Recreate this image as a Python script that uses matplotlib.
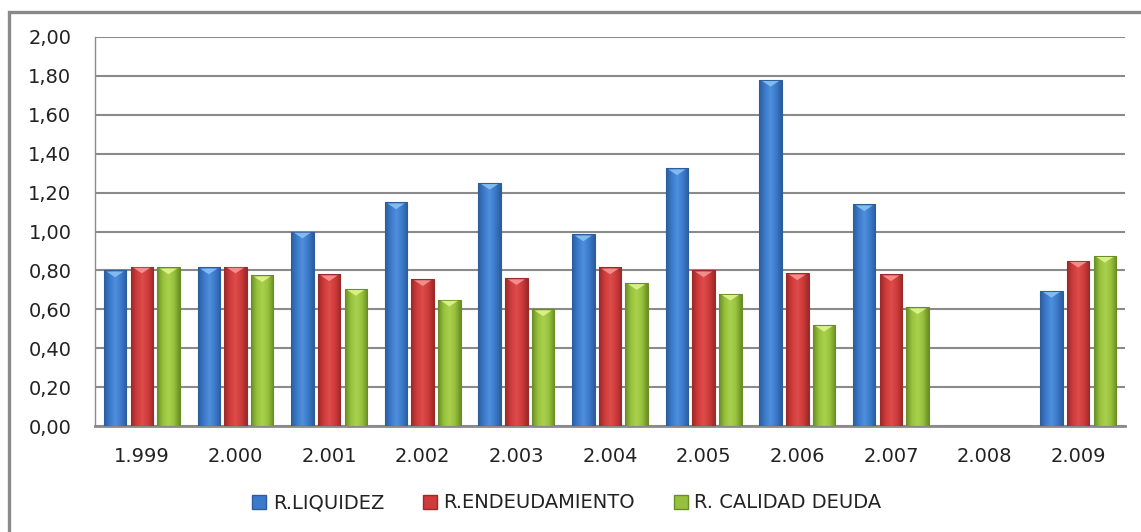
import matplotlib.pyplot as plt
import matplotlib.patches as patches
from matplotlib.colors import LinearSegmentedColormap
import numpy as np

plt.rcParams['font.family'] = ['DejaVu Sans']

years = ["1.999", "2.000", "2.001", "2.002", "2.003", "2.004",
         "2.005", "2.006", "2.007", "2.008", "2.009"]
liquidez = [0.80, 0.815, 1.00, 1.15, 1.25, 0.985, 1.325, 1.78, 1.14, 0.0, 0.695]
endeudamiento = [0.82, 0.82, 0.78, 0.755, 0.76, 0.815, 0.80, 0.785, 0.78, 0.0, 0.85]
calidad = [0.815, 0.775, 0.705, 0.65, 0.60, 0.735, 0.68, 0.52, 0.61, 0.0, 0.875]
series_names = ["R.LIQUIDEZ", "R.ENDEUDAMIENTO", "R. CALIDAD DEUDA"]
yticks = [0.0, 0.2, 0.4, 0.6, 0.8, 1.0, 1.2, 1.4, 1.6, 1.8, 2.0]

# (dark edge, mid, light highlight, tip colour)
palette = [
    ("#2c5d9c", "#3b7acb", "#4f8fdb", "#8cc4f5"),
    ("#9c2a2a", "#cf3b3b", "#de4c4c", "#f59a9a"),
    ("#6a8e26", "#97c13c", "#aad14e", "#e4f58f"),
]

fig = plt.figure(figsize=(11.41, 5.32), dpi=100)
ax = fig.add_axes([95/1141, 106/532, 1030/1141, 389/532])

x = np.arange(len(years))
width = 0.24
offsets = [-0.285, 0.0, 0.285]

for vals, off, cols in zip([liquidez, endeudamiento, calidad], offsets, palette):
    cmap = LinearSegmentedColormap.from_list(
        "bar", [cols[0], cols[1], cols[2], cols[1], cols[0]])
    grad = np.linspace(0, 1, 64).reshape(1, -1)
    bars = ax.bar(x + off, vals, width, color="none", edgecolor="none", zorder=3)
    for rect, v in zip(bars, vals):
        if v <= 0:
            continue
        x0 = rect.get_x()
        x1 = x0 + rect.get_width()
        im = ax.imshow(grad, cmap=cmap, extent=(x0, x1, 0, v),
                       aspect="auto", zorder=3, interpolation="bicubic")
        im.set_clip_path(rect)
        # thin outline
        ax.add_patch(patches.Rectangle((x0, 0), x1 - x0, v, fill=False,
                                       edgecolor=cols[0], linewidth=0.8, zorder=4))
        # bevel at the top of the bar
        w = x1 - x0
        tip = patches.Polygon([(x0 + 0.12*w, v - 0.006), (x1 - 0.12*w, v - 0.006),
                               (x0 + 0.5*w, v - 0.035)],
                              closed=True, color=cols[3], alpha=0.85,
                              linewidth=0, zorder=5)
        ax.add_patch(tip)

ax.set_xlim(-0.5, len(years) - 0.5)
ax.set_ylim(0, 2.0)
ax.set_yticks(yticks)
ax.set_yticklabels([f"{t:.2f}".replace(".", ",") for t in yticks])
ax.set_xticks(x)
ax.set_xticklabels(years)
ax.tick_params(axis="both", length=0, labelsize=14, colors="#222222")
ax.tick_params(axis="y", pad=17)
ax.tick_params(axis="x", pad=15)

ax.yaxis.grid(True, color="#8a8a8a", linewidth=1.5, zorder=0)
ax.set_axisbelow(True)
for side in ["top", "right"]:
    ax.spines[side].set_visible(False)
ax.spines["left"].set_color("#8a8a8a")
ax.spines["left"].set_linewidth(1.0)
ax.spines["bottom"].set_color("#8a8a8a")
ax.spines["bottom"].set_linewidth(2.0)

handles = [patches.Patch(facecolor=c[1], edgecolor=c[0]) for c in palette]
fig.legend(handles, series_names, loc="center", bbox_to_anchor=(567/1141, 29/532),
           ncol=3, frameon=False, fontsize=14, handlelength=0.7, handleheight=0.7,
           handletextpad=0.35, columnspacing=2.0, labelcolor="#222222")

# outer chart frame
fig.add_artist(patches.Rectangle((9/1141, -0.05), 1.2, 1.05 - 12/532,
                                 transform=fig.transFigure, fill=False,
                                 edgecolor="#8a8a8a", linewidth=2.4))

fig.savefig("out.png", dpi=100)
